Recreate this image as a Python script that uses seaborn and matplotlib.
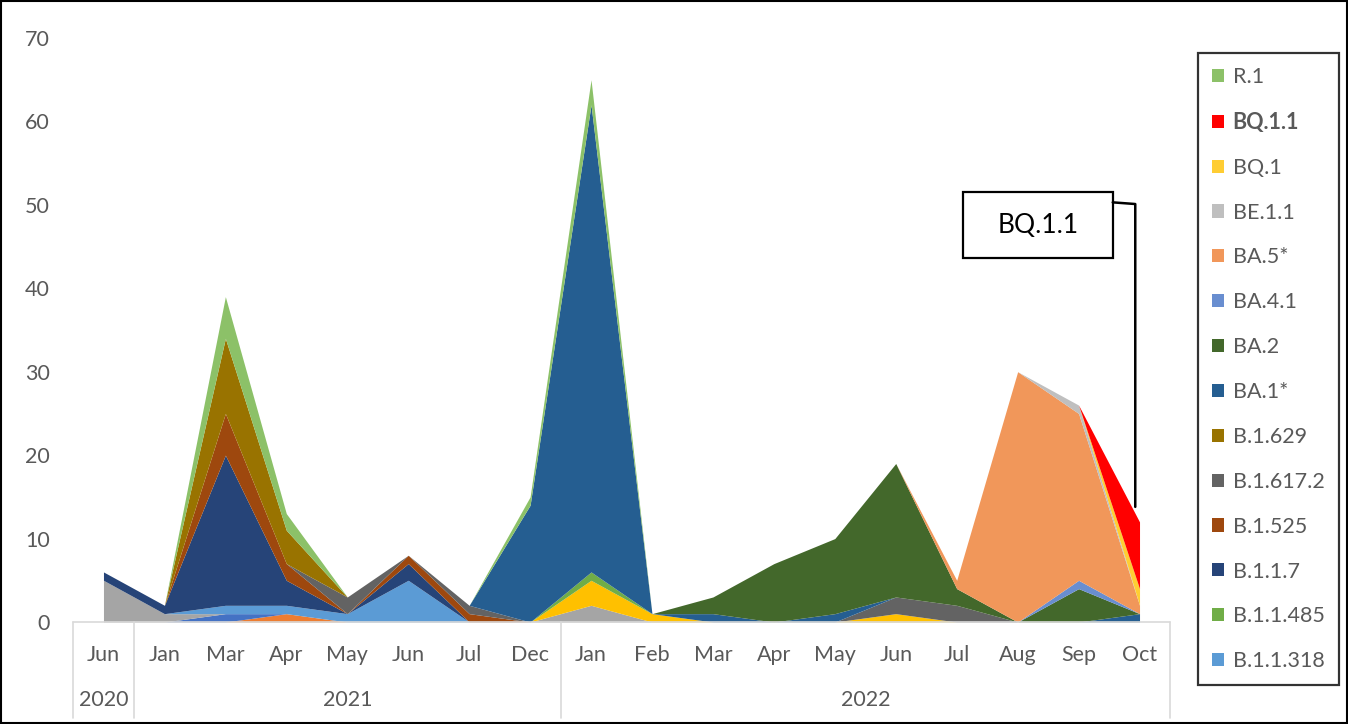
import numpy as np
import pandas as pd
import seaborn as sns
import matplotlib
matplotlib.use("Agg")
import matplotlib.pyplot as plt
from matplotlib.patches import Rectangle, Patch
from matplotlib.lines import Line2D

months = ['Jun', 'Jan', 'Mar', 'Apr', 'May', 'Jun', 'Jul', 'Dec',
          'Jan', 'Feb', 'Mar', 'Apr', 'May', 'Jun', 'Jul', 'Aug', 'Sep', 'Oct']
years = ['2020', '2021', '2022']
year_sizes = [1, 7, 10]

# series from bottom of the stack to the top
other_a = [0, 0, 0, 1, 0, 0, 0, 0, 0, 0, 0, 0, 0, 0, 0, 0, 0, 0]
other_b = [0, 0, 1, 0, 0, 0, 0, 0, 0, 0, 0, 0, 0, 0, 0, 0, 0, 0]
other_c = [5, 1, 0, 0, 0, 0, 0, 0, 2, 0, 0, 0, 0, 0, 0, 0, 0, 0]
other_d = [0, 0, 0, 0, 0, 0, 0, 0, 3, 1, 0, 0, 0, 1, 0, 0, 0, 0]
b11318 = [0, 0, 1, 1, 1, 5, 0, 0, 0, 0, 0, 0, 0, 0, 0, 0, 0, 0]
b11485 = [0, 0, 0, 0, 0, 0, 0, 0, 1, 0, 0, 0, 0, 0, 0, 0, 0, 0]
b117 = [1, 1, 18, 3, 0, 2, 0, 0, 0, 0, 0, 0, 0, 0, 0, 0, 0, 0]
b1525 = [0, 0, 5, 2, 0, 1, 1, 0, 0, 0, 0, 0, 0, 0, 0, 0, 0, 0]
b16172 = [0, 0, 0, 0, 2, 0, 1, 0, 0, 0, 0, 0, 0, 2, 2, 0, 0, 0]
b1629 = [0, 0, 9, 4, 0, 0, 0, 0, 0, 0, 0, 0, 0, 0, 0, 0, 0, 0]
ba1 = [0, 0, 0, 0, 0, 0, 0, 14, 56, 0, 1, 0, 1, 0, 0, 0, 0, 1]
ba2 = [0, 0, 0, 0, 0, 0, 0, 0, 0, 0, 2, 7, 9, 16, 2, 0, 4, 0]
ba41 = [0, 0, 0, 0, 0, 0, 0, 0, 0, 0, 0, 0, 0, 0, 0, 0, 1, 0]
ba5 = [0, 0, 0, 0, 0, 0, 0, 0, 0, 0, 0, 0, 0, 0, 1, 30, 20, 1]
be11 = [0, 0, 0, 0, 0, 0, 0, 0, 0, 0, 0, 0, 0, 0, 0, 0, 1, 0]
bq1 = [0, 0, 0, 0, 0, 0, 0, 0, 0, 0, 0, 0, 0, 0, 0, 0, 0, 2]
bq11 = [0, 0, 0, 0, 0, 0, 0, 0, 0, 0, 0, 0, 0, 0, 0, 0, 0, 8]
r1 = [0, 0, 5, 2, 0, 0, 0, 1, 3, 0, 0, 0, 0, 0, 0, 0, 0, 0]

names = ['other_a', 'other_b', 'other_c', 'other_d', 'B.1.1.318', 'B.1.1.485', 'B.1.1.7',
         'B.1.525', 'B.1.617.2', 'B.1.629', 'BA.1*', 'BA.2', 'BA.4.1', 'BA.5*',
         'BE.1.1', 'BQ.1', 'BQ.1.1', 'R.1']
series = [other_a, other_b, other_c, other_d, b11318, b11485, b117, b1525, b16172,
          b1629, ba1, ba2, ba41, ba5, be11, bq1, bq11, r1]
colors = ['#ED7D31', '#4472C4', '#A5A5A5', '#FFC000', '#5B9BD5', '#70AD47', '#264478',
          '#9E480E', '#636363', '#997300', '#255E91', '#43682B', '#698ED0', '#F1975A',
          '#BFBFBF', '#FFCD33', '#FF0000', '#8CC168']
legend_names = names[4:]

df = pd.DataFrame(dict(zip(names, series)))

sns.set_style('white')
plt.rcParams['font.family'] = ['Lato', 'DejaVu Sans']
grey_txt = '#595959'
fs = 15.5

fig = plt.figure(figsize=(13.48, 7.24), dpi=100)
ax = fig.add_axes([73 / 1348, 1 - 622 / 724, (1170 - 73) / 1348, 584 / 724])

x = np.arange(len(months))
ax.stackplot(x, *[df[n].values for n in names], colors=colors, linewidth=0)

ax.set_xlim(-0.5, len(months) - 0.5)
ax.set_ylim(0, 70)
ax.set_yticks(range(0, 71, 10))
ax.tick_params(axis='y', labelsize=fs, labelcolor=grey_txt, length=0, pad=16.5)
ax.set_xticks([])
sns.despine(ax=ax, left=True, right=True, top=True, bottom=True)
ax.axhline(0, color='#D9D9D9', lw=1.2, clip_on=False)

# two-level category axis
trans = ax.get_xaxis_transform()
for i, m in enumerate(months):
    ax.text(i, -0.056, m, transform=trans, ha='center', va='center',
            fontsize=fs, color=grey_txt)
start = 0
edges = [-0.5]
for yr, n in zip(years, year_sizes):
    ax.text(start + (n - 1) / 2, -0.133, yr, transform=trans, ha='center', va='center',
            fontsize=fs, color=grey_txt)
    start += n
    edges.append(start - 0.5)
for e in edges:
    ax.add_line(Line2D([e, e], [0, -0.165], transform=trans, color='#D9D9D9',
                       lw=1.2, clip_on=False))

# callout box for BQ.1.1
ax.add_patch(Rectangle((14.10, 43.6), 2.46, 7.9, facecolor='white', edgecolor='black',
                       lw=1.6, zorder=5))
ax.text(15.33, 47.5, 'BQ.1.1', ha='center', va='center', fontsize=19, color='black', zorder=6)
ax.plot([16.56, 16.93, 16.93], [50.3, 50.1, 13.8], color='black', lw=1.8, zorder=5)

# legend, top of stack first
handles = [Patch(facecolor=colors[names.index(n)], edgecolor='none') for n in reversed(legend_names)]
leg = fig.legend(handles, list(reversed(legend_names)), loc='upper left',
                 bbox_to_anchor=(1198 / 1348, 1 - 53 / 724), fontsize=fs,
                 frameon=True, fancybox=False, handlelength=0.56, handleheight=0.56,
                 handletextpad=0.4, labelspacing=1.155, borderpad=0.65, borderaxespad=0)
leg.get_frame().set_edgecolor('black')
leg.get_frame().set_linewidth(1.6)
for t in leg.get_texts():
    t.set_color(grey_txt)
    if t.get_text() == 'BQ.1.1':
        t.set_fontweight('bold')

# outer frame
fig.patches.append(Rectangle((0.001, 0.001), 0.998, 0.998, transform=fig.transFigure,
                             fill=False, edgecolor='black', lw=1.5))

fig.savefig('out.png', dpi=100)
